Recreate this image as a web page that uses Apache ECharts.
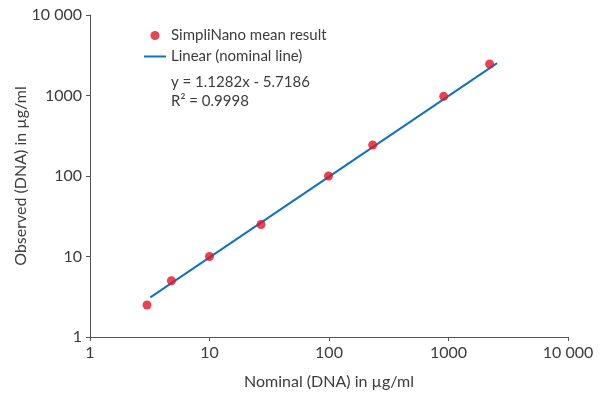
<!DOCTYPE html>
<html>
<head>
<meta charset="utf-8">
<script src="https://cdn.jsdelivr.net/npm/echarts@6/dist/echarts.min.js"></script>
<style>
  html, body { margin: 0; padding: 0; background: #fff; }
  #chart { width: 603px; height: 394px; }
</style>
</head>
<body>
<div id="chart"></div>
<script>
// nominal vs observed DNA concentration (µg/ml)
const nominal = [3, 4.8, 10, 27, 99, 232, 912, 2210];
const observed = [2.5, 5, 10, 25, 100, 243, 977, 2460];
// fitted line end points
const fitX = [3.2, 2550];
const fitY = [3.1, 2530];
const eqLines = ['y = 1.1282x - 5.7186', 'R² = 0.9998'];

const fmt = (v) => v >= 10000 ? String(v).replace(/(\d)(?=(\d{3})+$)/g, '$1 ') : String(v);

const chartDom = document.getElementById('chart');
const myChart = echarts.init(chartDom);
const font = 'Lato';
const textColor = '#3c3c3c';
const axisColor = '#555';

const option = {
  animation: false,
  backgroundColor: '#ffffff',
  textStyle: { fontFamily: font },
  grid: { left: 90, right: 35, top: 15, bottom: 57, containLabel: false, outerBoundsMode: 'none' },
  legend: {
    orient: 'vertical',
    left: 139,
    top: 23,
    itemWidth: 22,
    itemHeight: 9,
    itemGap: 6,
    textStyle: { color: textColor, fontSize: 15, fontFamily: font },
    data: [
      { name: 'SimpliNano mean result', icon: 'circle' },
      { name: 'Linear (nominal line)', icon: 'path://M0,0 L22,0 L22,2 L0,2 Z' }
    ]
  },
  xAxis: {
    type: 'log',
    min: 1,
    max: 10000,
    name: 'Nominal (DNA) in µg/ml',
    nameLocation: 'middle',
    nameGap: 37,
    nameMoveOverlap: false,
    nameTextStyle: { color: textColor, fontSize: 16 },
    axisLine: { lineStyle: { color: axisColor, width: 1 } },
    axisTick: { show: true, length: 4, lineStyle: { color: axisColor } },
    minorTick: { show: false },
    splitLine: { show: false },
    axisLabel: { color: textColor, fontSize: 16, margin: 8, formatter: fmt, showMinLabel: true, showMaxLabel: true }
  },
  yAxis: {
    type: 'log',
    min: 1,
    max: 10000,
    name: 'Observed (DNA) in µg/ml',
    nameLocation: 'middle',
    nameGap: 61,
    nameMoveOverlap: false,
    nameTextStyle: { color: textColor, fontSize: 16 },
    axisLine: { show: true, lineStyle: { color: axisColor, width: 1 } },
    axisTick: { show: true, length: 4, lineStyle: { color: axisColor } },
    splitLine: { show: false },
    axisLabel: { color: textColor, fontSize: 16, margin: 8, formatter: fmt }
  },
  graphic: [
    {
      type: 'text',
      left: 171,
      top: 73,
      style: { text: eqLines.join('\n'), fill: textColor, fontSize: 15, fontFamily: font, lineHeight: 19 }
    }
  ],
  series: [
    {
      name: 'Linear (nominal line)',
      type: 'line',
      data: fitX.map((x, i) => [x, fitY[i]]),
      symbol: 'none',
      lineStyle: { color: '#1172c0', width: 2 },
      itemStyle: { color: '#1172c0' },
      z: 2
    },
    {
      name: 'SimpliNano mean result',
      type: 'scatter',
      data: nominal.map((x, i) => [x, observed[i]]),
      symbol: 'circle',
      symbolSize: 9,
      itemStyle: { color: '#e0142a' },
      z: 3
    }
  ]
};

myChart.setOption(option);
</script>
</body>
</html>
